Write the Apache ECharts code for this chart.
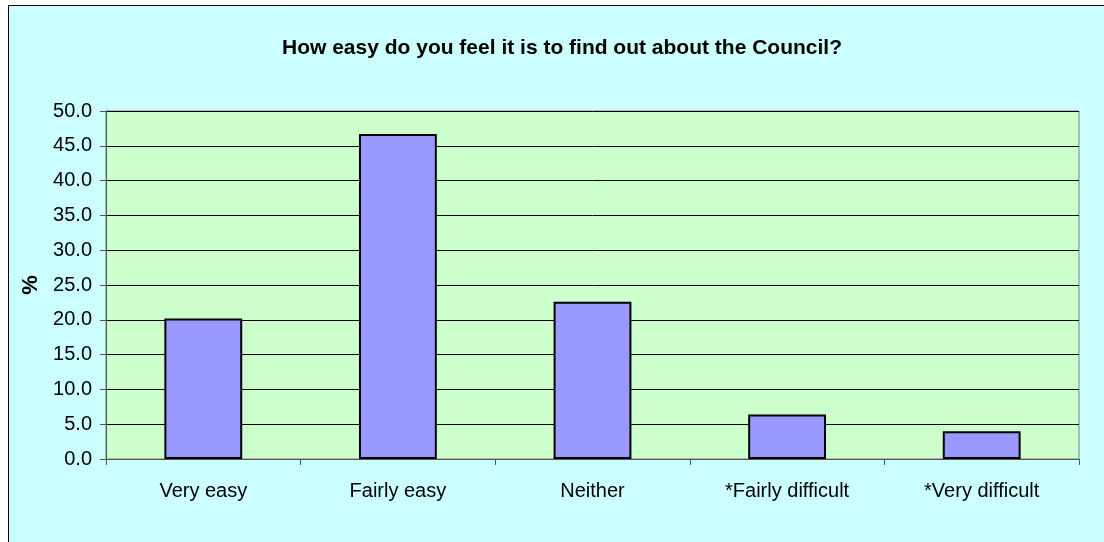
<!DOCTYPE html>
<html>
<head>
<meta charset="utf-8">
<script src="https://cdn.jsdelivr.net/npm/echarts@6/dist/echarts.min.js"></script>
<style>
  html, body { margin: 0; padding: 0; background: #fff; }
  #chart { width: 1104px; height: 542px; }
</style>
</head>
<body>
<div id="chart"></div>
<script>
const categories = ['Very easy', 'Fairly easy', 'Neither', '*Fairly difficult', '*Very difficult'];
const percentValues = [20.2, 46.7, 22.6, 6.4, 4.0];
const titleText = 'How easy do you feel it is to find out about the Council?';

const myChart = echarts.init(document.getElementById('chart'));
const option = {
  animation: false,
  backgroundColor: '#ffffff',
  textStyle: { fontFamily: 'Liberation Sans, Arial, sans-serif' },
  graphic: [
    {
      type: 'rect',
      z: -10,
      shape: { x: 8.5, y: 5.5, width: 1200, height: 600 },
      style: { fill: '#CCFFFF', stroke: '#000', lineWidth: 1 }
    }
  ],
  title: {
    text: titleText,
    left: 557,
    textAlign: 'center',
    top: 33,
    textStyle: { fontSize: 21, fontWeight: 'bold', color: '#000' }
  },
  grid: {
    left: 106,
    right: 25,
    top: 111,
    bottom: 83,
    show: true,
    backgroundColor: '#CCFFCC',
    borderColor: '#808080',
    borderWidth: 1
  },
  xAxis: {
    type: 'category',
    data: categories,
    axisLine: { lineStyle: { color: '#555', width: 1 } },
    axisTick: { show: true, length: 6, lineStyle: { color: '#555' } },
    axisLabel: { color: '#000', fontSize: 20, margin: 22 }
  },
  yAxis: {
    type: 'value',
    min: 0,
    max: 50,
    interval: 5,
    name: '%',
    nameLocation: 'middle',
    nameGap: 64,
    nameRotate: 90,
    nameTextStyle: { fontSize: 22, fontWeight: 'bold', color: '#000' },
    axisLine: { show: true, lineStyle: { color: '#555', width: 1 } },
    axisTick: { show: true, length: 6, lineStyle: { color: '#555' } },
    axisLabel: {
      color: '#000',
      fontSize: 20,
      margin: 14,
      formatter: v => v.toFixed(1)
    },
    splitLine: { lineStyle: { color: '#000', width: 1 } }
  },
  series: [
    {
      type: 'bar',
      data: percentValues,
      barWidth: '40%',
      itemStyle: { color: '#9999FF', borderColor: '#000', borderWidth: 2 }
    }
  ]
};
myChart.setOption(option);
</script>
</body>
</html>
